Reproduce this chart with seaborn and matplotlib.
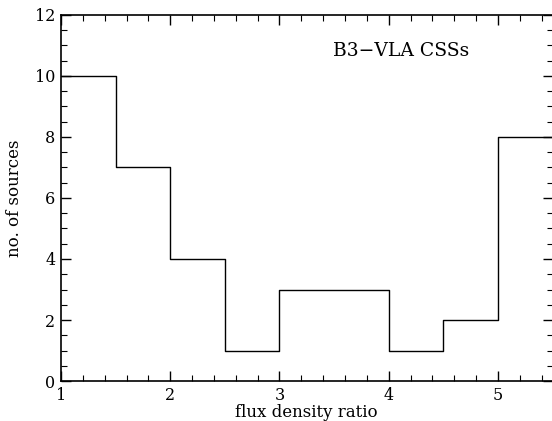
import numpy as np
import matplotlib
matplotlib.use("Agg")
import matplotlib.pyplot as plt
from matplotlib.ticker import MultipleLocator
import seaborn as sns

# histogram of flux density ratio
bin_edges = [1.0, 1.5, 2.0, 2.5, 3.0, 3.5, 4.0, 4.5, 5.0, 5.5]
counts = [10, 7, 4, 1, 3, 3, 1, 2, 8]
bin_centers = [0.5 * (a + b) for a, b in zip(bin_edges[:-1], bin_edges[1:])]

sns.set_style("ticks")
plt.rcParams['font.family'] = ['DejaVu Serif']
plt.rcParams['text.color'] = 'black'
plt.rcParams['axes.labelcolor'] = 'black'
plt.rcParams['xtick.labelcolor'] = 'black'
plt.rcParams['ytick.labelcolor'] = 'black'

fig = plt.figure(figsize=(5.52, 4.21), dpi=100)
ax = fig.add_axes([0.1105, 0.095, 0.8906, 0.8694])

sns.histplot(x=bin_centers, weights=counts, bins=bin_edges, element='step',
             fill=False, color='black', linewidth=1.0, ax=ax)

ax.set_xlim(1, 5.5)
ax.set_ylim(0, 12)
ax.xaxis.set_major_locator(MultipleLocator(1))
ax.xaxis.set_minor_locator(MultipleLocator(0.2))
ax.yaxis.set_major_locator(MultipleLocator(2))
ax.yaxis.set_minor_locator(MultipleLocator(0.5))
ax.tick_params(which='both', direction='in', top=True, right=True, color='black')
ax.tick_params(which='major', length=7, width=1, labelsize=11.5, pad=4)
ax.tick_params(which='minor', length=4, width=0.8)
for s in ax.spines.values():
    s.set_linewidth(1.2)
    s.set_color('black')

ax.set_xlabel('flux density ratio', fontsize=12, labelpad=0)
ax.set_ylabel('no. of sources', fontsize=12, labelpad=9)
ax.text(3.49, 10.65, 'B3\u2212VLA CSSs', fontsize=13.5)

fig.savefig('out.png', dpi=100)
